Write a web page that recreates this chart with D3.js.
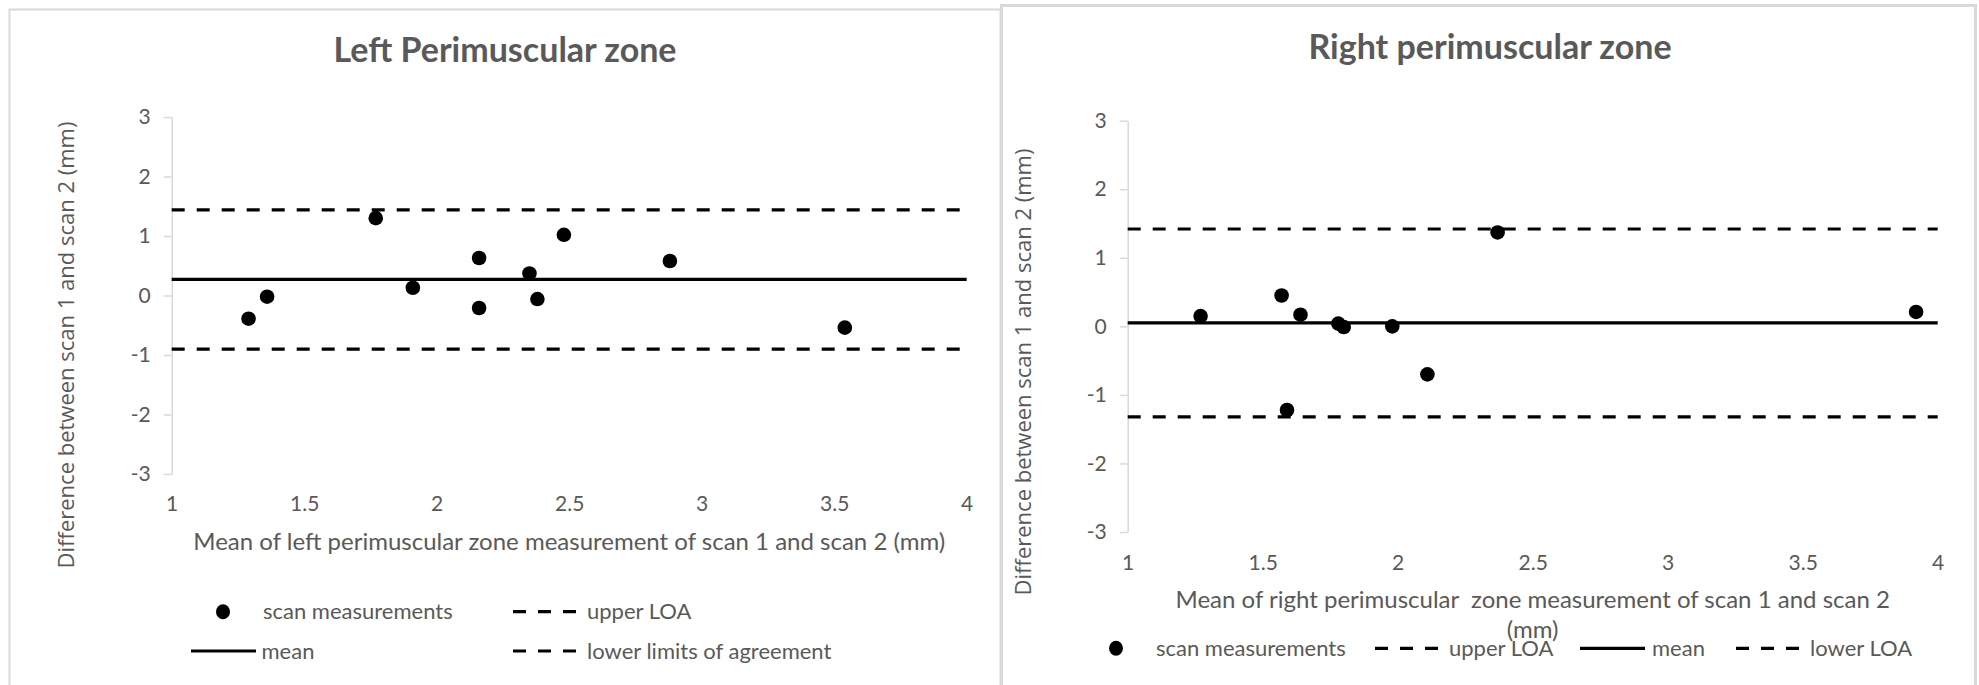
<!DOCTYPE html>
<html>
<head>
<meta charset="utf-8">
<script src="https://cdnjs.cloudflare.com/ajax/libs/d3/7.8.5/d3.min.js"></script>
<style>
  body { margin: 0; background: #fff; }
  svg text { font-family: Lato, "Liberation Sans", sans-serif; fill: #595959; }
  svg text.ytitle { font-family: "Open Sans", sans-serif; }
</style>
</head>
<body>
<script>
var width = 1979,
    height = 685;

// left panel values
var leftMeans = [1.29, 1.36, 1.77, 1.91, 2.16, 2.16, 2.35, 2.38, 2.48, 2.88, 3.54];
var leftDiffs = [-0.39, -0.02, 1.30, 0.13, 0.63, -0.21, 0.37, -0.06, 1.02, 0.58, -0.54];
var leftLimits = {upper: 1.44, mean: 0.27, lower: -0.90};
var leftLegend = ['scan measurements', 'upper LOA', 'mean', 'lower limits of agreement'];

// right panel values
var rightMeans = [1.27, 1.57, 1.64, 1.78, 1.80, 1.98, 2.11, 2.37, 1.59, 3.92];
var rightDiffs = [0.15, 0.45, 0.17, 0.04, -0.01, 0.00, -0.70, 1.37, -1.22, 0.21];
var rightLimits = {upper: 1.42, mean: 0.05, lower: -1.32};
var rightLegend = ['scan measurements', 'upper LOA', 'mean', 'lower LOA'];

var xTicks = [1, 1.5, 2, 2.5, 3, 3.5, 4];
var yTicks = [-3, -2, -1, 0, 1, 2, 3];

var svg = d3.select('body').append('svg')
    .attr('width', width)
    .attr('height', height);

// panel frames
svg.append('rect')
    .attr('x', 9.5).attr('y', 9.5)
    .attr('width', 991).attr('height', 720)
    .attr('fill', 'none').attr('stroke', '#d9d9d9').attr('stroke-width', 2);
svg.append('rect')
    .attr('x', 1001.5).attr('y', 5.5)
    .attr('width', 974).attr('height', 720)
    .attr('fill', 'none').attr('stroke', '#d9d9d9').attr('stroke-width', 3);

function drawPanel(p) {
    var x = d3.scaleLinear().domain([1, 4]).range([p.left, p.right]);
    var y = d3.scaleLinear().domain([-3, 3]).range([p.bottom, p.top]);
    var g = svg.append('g');

    g.append('text')
        .attr('x', p.titleX).attr('y', p.titleY)
        .attr('text-anchor', 'middle')
        .style('font-size', '34px').style('font-weight', 'bold')
        .text(p.title);

    // y axis
    var yAxis = g.append('g')
        .attr('transform', 'translate(' + p.left + ',0)')
        .call(d3.axisLeft(y).tickValues(yTicks).tickSize(8).tickPadding(13)
            .tickSizeOuter(0).tickFormat(function (d) { return d; }));
    yAxis.select('.domain').attr('stroke', '#d9d9d9').attr('stroke-width', 1.5);
    yAxis.selectAll('.tick line').attr('stroke', '#d9d9d9').attr('stroke-width', 1.5);
    yAxis.selectAll('.tick text').style('font-size', '21px').attr('fill', '#595959');

    // x axis labels only (no axis line)
    var xAxis = g.append('g')
        .attr('transform', 'translate(0,' + p.xTickY + ')')
        .call(d3.axisBottom(x).tickValues(xTicks).tickSize(0).tickPadding(0)
            .tickFormat(function (d) { return d; }));
    xAxis.select('.domain').remove();
    xAxis.selectAll('.tick text').attr('dy', 0).style('font-size', '21px').attr('fill', '#595959');

    // axis titles
    var xt = g.append('text')
        .attr('text-anchor', 'middle')
        .style('font-size', '24px')
        .style('white-space', 'pre');
    p.xTitle.forEach(function (line, i) {
        xt.append('tspan')
            .attr('x', (p.left + p.right) / 2)
            .attr('y', p.xTitleY + i * 30)
            .text(line);
    });

    g.append('text')
        .attr('class', 'ytitle')
        .attr('transform', 'translate(' + p.yTitleX + ',' + p.yTitleY + ') rotate(-90)')
        .attr('text-anchor', 'middle')
        .style('font-size', '22px')
        .text('Difference between scan 1 and scan 2 (mm)');

    // limit lines
    var lim = [
        {v: p.limits.upper, dash: '13,12'},
        {v: p.limits.mean, dash: null},
        {v: p.limits.lower, dash: '13,12'}
    ];
    g.selectAll('.limit')
        .data(lim)
        .enter()
        .append('line')
        .attr('class', 'limit')
        .attr('x1', x(1)).attr('x2', x(4))
        .attr('y1', function (d) { return y(d.v); })
        .attr('y2', function (d) { return y(d.v); })
        .attr('stroke', '#000')
        .attr('stroke-width', 3.2)
        .attr('stroke-dasharray', function (d) { return d.dash; });

    // points
    g.selectAll('.pt')
        .data(p.means)
        .enter()
        .append('circle')
        .attr('class', 'pt')
        .attr('cx', function (d) { return x(d); })
        .attr('cy', function (d, i) { return y(p.diffs[i]); })
        .attr('r', 7.3)
        .attr('fill', '#000');

    // legend
    p.legend.forEach(function (item, i) {
        var pos = p.legendPos[i];
        if (item.kind === 'point') {
            g.append('ellipse')
                .attr('cx', pos.x + 7).attr('cy', pos.y)
                .attr('rx', 7).attr('ry', 7.5).attr('fill', '#000');
        } else {
            g.append('line')
                .attr('x1', pos.x).attr('x2', pos.x + 65)
                .attr('y1', pos.y).attr('y2', pos.y)
                .attr('stroke', '#000').attr('stroke-width', 3.2)
                .attr('stroke-dasharray', item.kind === 'dash' ? '13,12' : null);
        }
        g.append('text')
            .attr('x', pos.tx).attr('y', pos.y)
            .attr('dy', '0.35em')
            .style('font-size', '22px')
            .text(item.label);
    });
}

drawPanel({
    title: 'Left Perimuscular zone', titleX: 505, titleY: 62,
    left: 171.7, right: 966.7, top: 117, bottom: 474,
    xTickY: 510.5,
    xTitle: ['Mean of left perimuscular zone measurement of scan 1 and scan 2 (mm)'], xTitleY: 550,
    yTitleX: 74, yTitleY: 345,
    means: leftMeans, diffs: leftDiffs, limits: leftLimits,
    legend: [
        {kind: 'point', label: leftLegend[0]},
        {kind: 'dash', label: leftLegend[1]},
        {kind: 'solid', label: leftLegend[2]},
        {kind: 'dash', label: leftLegend[3]}
    ],
    legendPos: [
        {x: 216, y: 611.7, tx: 263},
        {x: 513, y: 611.7, tx: 587},
        {x: 191, y: 651, tx: 261.5},
        {x: 513, y: 651, tx: 587}
    ]
});

drawPanel({
    title: 'Right perimuscular zone', titleX: 1490, titleY: 59,
    left: 1127.7, right: 1937.7, top: 120.7, bottom: 532,
    xTickY: 570,
    xTitle: ['Mean of right perimuscular  zone measurement of scan 1 and scan 2', '(mm)'], xTitleY: 608,
    yTitleX: 1031, yTitleY: 372,
    means: rightMeans, diffs: rightDiffs, limits: rightLimits,
    legend: [
        {kind: 'point', label: rightLegend[0]},
        {kind: 'dash', label: rightLegend[1]},
        {kind: 'solid', label: rightLegend[2]},
        {kind: 'dash', label: rightLegend[3]}
    ],
    legendPos: [
        {x: 1109, y: 648.3, tx: 1156},
        {x: 1375, y: 648.3, tx: 1449},
        {x: 1580, y: 648.3, tx: 1652},
        {x: 1736, y: 648.3, tx: 1810}
    ]
});
</script>
</body>
</html>
